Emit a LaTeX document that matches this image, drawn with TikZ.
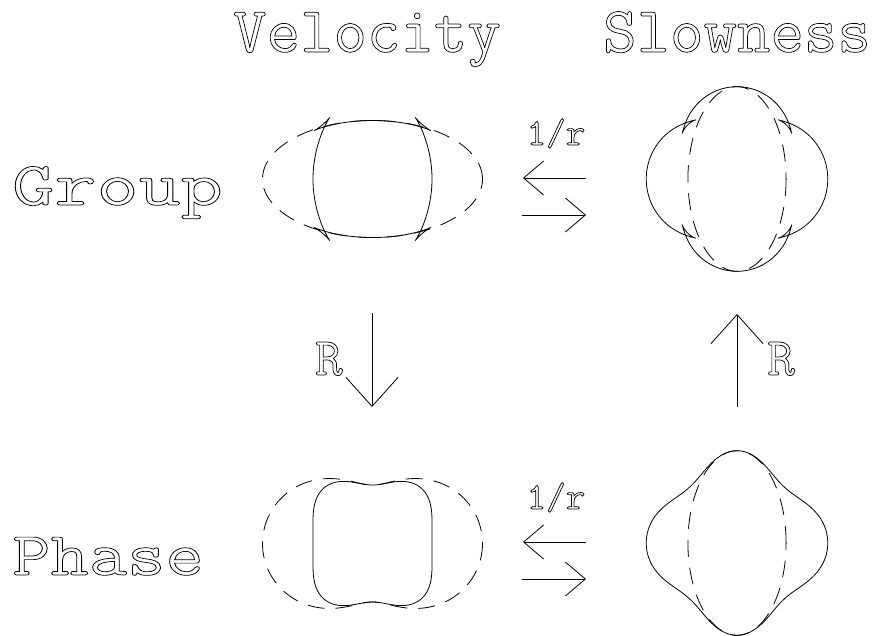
\documentclass[tikz,border=0pt]{standalone}
\usepackage{fontspec}
\usetikzlibrary{arrows.meta}
\newcommand{\outl}[1]{\special{pdf:literal direct 1 Tr 0.7 w}#1\special{pdf:literal direct 0 Tr}}
\begin{document}
\begin{tikzpicture}[x=1pt,y=-1pt,
  declare function={
    ss(\t)=sin(\t)*sin(\t);
    P(\s)=\s*(0.5+\s*(0.664+\s*(-1.7152+0.5344*\s)));
    Pd(\s)=0.5+\s*(1.328+\s*(-5.1456+2.1376*\s));
    Vp(\t)=59.5*(1+P(ss(\t)));
    Vd(\t)=59.5*Pd(ss(\t))*sin(2*\t);
    gx(\t)=Vp(\t)*cos(\t)-Vd(\t)*sin(\t);
    gy(\t)=Vp(\t)*sin(\t)+Vd(\t)*cos(\t);
    gg(\t)=5400/(gx(\t)*gx(\t)+gy(\t)*gy(\t));
    ev(\t)=sqrt(12100*cos(\t)*cos(\t)+3422*sin(\t)*sin(\t));
  },
  curve/.style={line width=0.8pt, line join=round},
  dashcurve/.style={curve, dash pattern=on 17pt off 11pt},
  lbl/.style={font=\ttfamily, inner sep=0pt},
  arr/.style={line width=0.8pt, -{Straight Barb[length=20pt,width=34pt,line width=0.8pt]}},
  varr/.style={line width=0.8pt, -{Straight Barb[length=29pt,width=52pt,line width=0.8pt]}},
]
\useasboundingbox (0,0) rectangle (883,635);

% titles
\node[lbl, anchor=base] (tv) at (367,52) {\fontsize{65pt}{70pt}\selectfont\outl{Velocity}};
\node[lbl, anchor=base] (ts) at (737,52) {\fontsize{65pt}{70pt}\selectfont\outl{Slowness}};
\node[lbl, anchor=base west] (tg) at (12,205) {\scalebox{1.32}[1]{\fontsize{62pt}{70pt}\selectfont\outl{Group}}};
\node[lbl, anchor=base west] (tp) at (12,575) {\scalebox{1.2}[1]{\fontsize{62pt}{70pt}\selectfont\outl{Phase}}};

% group velocity
\coordinate (gv) at (372.5,179);
\draw[dashcurve] (gv) ellipse [x radius=110pt, y radius=58.5pt];
\draw[curve, shift={(gv)}] plot[domain=0:360, samples=721] ({gx(\x)},{gy(\x)});

% group slowness
\coordinate (gs) at (737,179);
\draw[dashcurve, shift={(gs)}] plot[domain=0:360, samples=361] ({5400/ev(\x)*cos(\x)},{5400/ev(\x)*sin(\x)});
\draw[curve, shift={(gs)}] plot[domain=0:360, samples=721] ({gg(\x)*gx(\x)},{gg(\x)*gy(\x)});

% phase velocity
\coordinate (pv) at (372.5,543.5);
\draw[dashcurve, shift={(pv)}] plot[domain=0:360, samples=361] ({ev(\x)*cos(\x)},{ev(\x)*sin(\x)});
\draw[curve, shift={(pv)}] plot[domain=0:360, samples=361] ({Vp(\x)*cos(\x)},{Vp(\x)*sin(\x)});

% phase slowness
\coordinate (ps) at (737,543);
\draw[dashcurve] (ps) ellipse [x radius=49.1pt, y radius=92.3pt];
\draw[curve, shift={(ps)}] plot[domain=0:360, samples=361] ({5400/Vp(\x)*cos(\x)},{5400/Vp(\x)*sin(\x)});

% 1/r arrows
\node[lbl, anchor=base] (r1) at (556,145) {\fontsize{38pt}{40pt}\selectfont\outl{1/r}};
\coordinate (a1s) at (586,178); \coordinate (a1e) at (523,178);
\coordinate (a2s) at (522,215); \coordinate (a2e) at (586,215);
\draw[arr] (a1s) -- (a1e);
\draw[arr] (a2s) -- (a2e);

\node[lbl, anchor=base] (r2) at (556,509) {\fontsize{38pt}{40pt}\selectfont\outl{1/r}};
\coordinate (b1s) at (586,542); \coordinate (b1e) at (523,542);
\coordinate (b2s) at (522,579); \coordinate (b2e) at (586,579);
\draw[arr] (b1s) -- (b1e);
\draw[arr] (b2s) -- (b2e);

% R arrows
\coordinate (d1s) at (372,313); \coordinate (d1e) at (372,407);
\draw[varr] (d1s) -- (d1e);
\node[lbl, anchor=base east] (rl) at (343,375) {\fontsize{54pt}{56pt}\selectfont\outl{R}};
\coordinate (u1s) at (737,407); \coordinate (u1e) at (737,314);
\draw[varr] (u1s) -- (u1e);
\node[lbl, anchor=base west] (rr) at (767,375) {\fontsize{54pt}{56pt}\selectfont\outl{R}};
\end{tikzpicture}
\end{document}
